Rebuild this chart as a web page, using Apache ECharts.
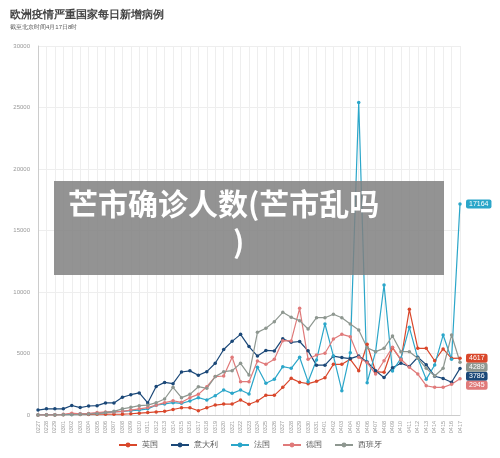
<!DOCTYPE html>
<html><head><meta charset="utf-8">
<script src="https://cdn.jsdelivr.net/npm/echarts@6/dist/echarts.min.js"></script>
<style>html,body{margin:0;padding:0;background:#fff}#c{width:500px;height:458px}</style>
</head><body><div id="c"></div>
<script>
const dates = ['0227','0228','0229','0301','0302','0303','0304','0305','0306','0307','0308','0309','0310','0311','0312','0313','0314','0315','0316','0317','0318','0319','0320','0321','0322','0323','0324','0325','0326','0327','0328','0329','0330','0331','0401','0402','0403','0404','0405','0406','0407','0408','0409','0410','0411','0412','0413','0414','0415','0416','0417'];
const uk = [0,0,10,20,60,40,50,60,70,60,70,100,150,200,250,300,450,590,590,350,590,810,890,890,1220,870,1140,1600,1600,2250,2980,2660,2550,2740,3030,4120,4120,4530,3600,5750,3520,3470,5470,4470,8590,5420,5420,4410,5370,4610,4617];
const italy = [400,500,500,500,770,600,730,760,980,980,1440,1650,1797,977,2313,2651,2547,3497,3590,3233,3526,4207,5322,5986,6557,5560,4789,5249,5210,6203,5909,5974,5217,4050,4053,4782,4668,4585,4805,4316,3599,3039,3836,4204,3951,4694,4092,3153,2972,2667,3786];
const france = [10,20,20,40,40,100,100,150,200,250,300,350,400,500,800,900,1000,950,1140,1410,1220,1570,2030,1760,2030,1710,3880,2580,2900,3930,3800,4690,2710,4470,7400,4800,1980,5070,25400,2630,5150,10570,3580,4610,7130,4610,2900,4070,6500,4530,17164];
const germany = [10,20,30,60,150,100,130,200,250,250,300,400,500,600,800,1000,1160,1030,1410,1680,2300,3120,3170,4690,2710,2710,4390,4120,4530,6040,6020,8670,4530,4880,5020,6180,6560,6370,4690,4250,3330,4410,5500,4530,3880,3330,2380,2250,2250,2500,2945];
const spain = [0,2,3,15,30,50,80,100,200,300,500,620,760,800,1000,1300,2250,1410,1680,2300,2170,3120,3520,3600,4200,3250,6720,7050,7590,8350,7940,7670,6990,7910,7910,8190,7910,7400,6910,5470,5150,5420,6420,5150,5150,4610,3800,3170,3800,6500,4289];
const names = ['英国','意大利','法国','德国','西班牙'];
const colors = ['#d9472b','#1b4878','#2ba6c9','#e07a7a','#8e9790'];

const chart = echarts.init(document.getElementById('c'));
const mk = (name, data, color) => ({
  name, type:'line', data, color, symbol:'circle', symbolSize:3.5,
  lineStyle:{width:1.2}, itemStyle:{color},
  endLabel:{show:true, formatter:p=>p.value, color:'#fff', backgroundColor:color,
    fontSize:7, padding:[1,3], borderRadius:2, distance:6},
  labelLayout:{moveOverlap:'shiftY'}
});
chart.setOption({
  animation:false,
  title:{text:'欧洲疫情严重国家每日新增病例', subtext:'截至北京时间4月17日8时', left:5, top:4,
    textStyle:{fontSize:11, fontWeight:'bold', color:'#444'},
    subtextStyle:{fontSize:6, color:'#555'}, itemGap:4},
  grid:{left:38, right:40, top:46, bottom:43},
  legend:{bottom:4, itemWidth:18, itemHeight:6, textStyle:{fontSize:8, color:'#555'}, itemGap:12},
  xAxis:{type:'category', data:dates, boundaryGap:false,
    axisLine:{lineStyle:{color:'#ccc'}}, axisTick:{show:false},
    axisLabel:{rotate:90, fontSize:5.5, color:'#999', interval:0, margin:6},
    splitLine:{show:true, lineStyle:{color:'#eee'}}},
  yAxis:{type:'value', min:0, max:30000, interval:5000,
    axisLine:{show:true, lineStyle:{color:'#ccc'}},
    axisLabel:{fontSize:6, color:'#999', formatter:v=>String(v)},
    splitLine:{lineStyle:{color:'#eee'}}},
  series:[mk(names[0],uk,colors[0]),mk(names[1],italy,colors[1]),mk(names[2],france,colors[2]),
          mk(names[3],germany,colors[3]),mk(names[4],spain,colors[4])],
  graphic:[
    {type:'rect', left:54, top:181, shape:{width:390, height:94}, style:{fill:'rgba(128,128,128,0.85)'}, z:100},
    {type:'text', left:68, top:189, style:{text:'芒市确诊人数(芒市乱吗', fill:'#fff', font:'bold 30px "Noto Sans CJK SC"'}, z:101},
    {type:'text', left:233, top:227, style:{text:')', fill:'#fff', font:'bold 30px "Noto Sans CJK SC"'}, z:101}
  ]
});
</script></body></html>
